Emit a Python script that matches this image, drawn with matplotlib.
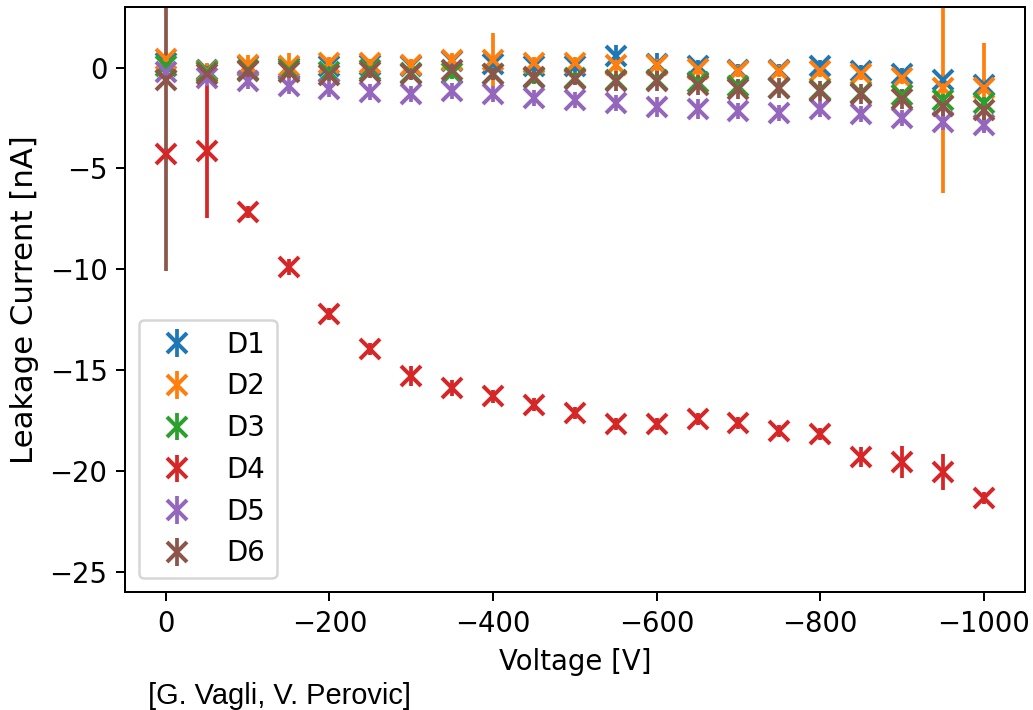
import matplotlib
matplotlib.use("Agg")
import matplotlib.pyplot as plt

# bias voltage steps [V]
voltage = [0, -50, -100, -150, -200, -250, -300, -350, -400, -450, -500,
           -550, -600, -650, -700, -750, -800, -850, -900, -950, -1000]

labels = ["D1", "D2", "D3", "D4", "D5", "D6"]

# leakage current [nA] per diode
d1 = [0.25, -0.1, 0.1, 0.0, 0.1, 0.15, 0.1, 0.35, 0.2, 0.1, 0.1,
      0.6, 0.2, 0.1, -0.1, -0.1, 0.1, -0.15, -0.3, -0.6, -0.85]
d2 = [0.45, -0.15, 0.15, 0.1, 0.25, 0.25, 0.15, 0.4, 0.4, 0.25, 0.25,
      0.15, 0.15, -0.05, -0.15, -0.15, -0.15, -0.3, -0.5, -1.0, -1.0]
d3 = [0.1, -0.2, -0.1, -0.1, -0.2, -0.1, -0.25, -0.25, -0.3, -0.5, -0.5,
      -0.6, -0.6, -0.7, -0.9, -1.0, -1.1, -1.25, -1.35, -1.6, -1.75]
d4 = [-4.3, -4.15, -7.15, -9.9, -12.2, -13.95, -15.3, -15.9, -16.3, -16.7, -17.1,
      -17.65, -17.65, -17.4, -17.6, -18.0, -18.15, -19.3, -19.55, -20.05, -21.35]
d5 = [-0.2, -0.5, -0.65, -0.9, -1.05, -1.2, -1.3, -1.15, -1.3, -1.5, -1.6,
      -1.75, -1.95, -2.05, -2.15, -2.25, -2.05, -2.3, -2.5, -2.7, -2.85]
d6 = [-0.6, -0.3, -0.15, -0.2, -0.35, -0.2, -0.3, -0.1, -0.3, -0.45, -0.55,
      -0.65, -0.65, -0.85, -1.05, -1.0, -1.15, -1.3, -1.55, -1.9, -2.1]

# uncertainties [nA]
e1 = [0.3, 0.3, 0.3, 0.3, 0.3, 0.3, 0.3, 0.3, 0.3, 0.3, 0.3,
      0.5, 0.5, 0.3, 0.3, 0.3, 0.3, 0.3, 0.3, 0.3, 0.3]
e2 = [0.3, 0.4, 0.5, 0.6, 0.3, 0.2, 0.3, 0.3, 1.3, 0.3, 0.3,
      0.3, 0.3, 0.3, 0.3, 0.3, 0.3, 0.3, 0.3, 5.2, 2.2]
e3 = [0.3, 0.3, 0.3, 0.3, 0.3, 0.3, 0.3, 0.3, 0.3, 0.3, 0.3,
      0.3, 0.3, 0.3, 0.3, 0.3, 0.3, 0.3, 0.3, 0.3, 0.3]
e4 = [0.3, 3.3, 0.3, 0.4, 0.3, 0.3, 0.5, 0.4, 0.3, 0.3, 0.3,
      0.3, 0.3, 0.3, 0.3, 0.3, 0.3, 0.5, 0.8, 0.9, 0.3]
e5 = [0.4, 0.4, 0.4, 0.4, 0.4, 0.4, 0.4, 0.4, 0.4, 0.4, 0.4,
      0.4, 0.5, 0.5, 0.4, 0.4, 0.4, 0.4, 0.4, 0.4, 0.4]
e6 = [9.5, 0.3, 0.3, 0.3, 0.3, 0.3, 0.3, 0.3, 0.3, 0.3, 0.3,
      0.5, 0.5, 0.5, 0.5, 0.5, 0.5, 0.5, 0.5, 0.5, 0.5]

currents = [d1, d2, d3, d4, d5, d6]
errors = [e1, e2, e3, e4, e5, e6]

plt.rcParams["font.size"] = 11

fig = plt.figure(figsize=(1033 / 180, 710 / 180), dpi=180)
ax = fig.add_axes([0.121, 0.166, 0.871, 0.824])

for lab, cur, err in zip(labels, currents, errors):
    ax.errorbar(voltage, cur, yerr=err, fmt="x", markersize=8, mew=1.6, label=lab)

ax.set_xlim(50, -1050)
ax.set_ylim(-26, 3)
ax.set_xlabel("Voltage [V]", labelpad=4)
ax.set_ylabel("Leakage Current [nA]", fontsize=12.3)
ax.legend(loc="lower left")

fig.text(0.143, 0.008, "[G. Vagli, V. Perovic]", family="Liberation Sans", fontsize=11.6)

fig.savefig("out.png", dpi=180)
